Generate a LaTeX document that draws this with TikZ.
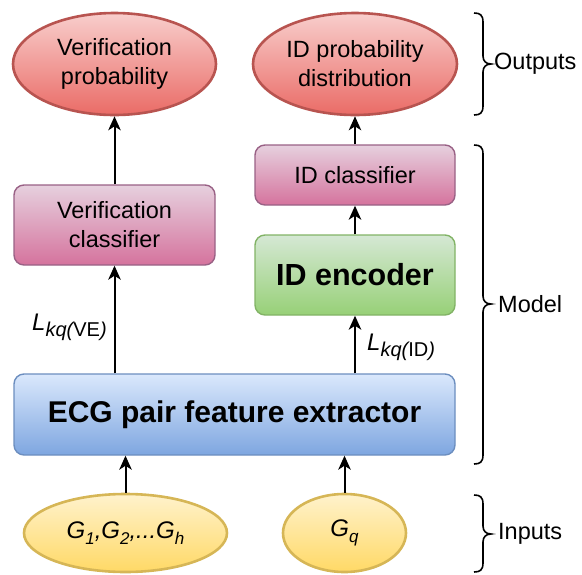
\documentclass[tikz,border=0pt]{standalone}
\usepackage{fontspec}
\setmainfont{Liberation Sans}
\usetikzlibrary{arrows.meta,shapes.geometric}

% lowered, smaller text for subscripts
\newcommand\lowtxt[2][17]{\raisebox{-6pt}{\fontsize{#1}{#1}\selectfont #2}}

\definecolor{redtop}{HTML}{F8CECC}\definecolor{redbot}{HTML}{EA6B66}\definecolor{redline}{HTML}{B85450}
\definecolor{pinktop}{HTML}{E6D0DE}\definecolor{pinkbot}{HTML}{D5739D}\definecolor{pinkline}{HTML}{996185}
\definecolor{greentop}{HTML}{D5E8D4}\definecolor{greenbot}{HTML}{97D077}\definecolor{greenline}{HTML}{82B366}
\definecolor{bluetop}{HTML}{DAE8FC}\definecolor{bluebot}{HTML}{7EA6E0}\definecolor{blueline}{HTML}{6C8EBF}
\definecolor{yeltop}{HTML}{FFF2CC}\definecolor{yelbot}{HTML}{FFD966}\definecolor{yelline}{HTML}{D6B656}

\tikzset{
  base/.style={inner sep=0pt, align=center, font=\fontsize{23.5}{29}\selectfont},
  oval/.style={base, ellipse, line width=2.6pt},
  box/.style={base, rectangle, rounded corners=10pt, line width=1.4pt},
  outnode/.style={oval, top color=redtop, bottom color=redbot, draw=redline},
  innode/.style={oval, top color=yeltop, bottom color=yelbot, draw=yelline},
  clsbox/.style={box, top color=pinktop, bottom color=pinkbot, draw=pinkline},
  encbox/.style={box, top color=greentop, bottom color=greenbot, draw=greenline},
  featbox/.style={box, top color=bluetop, bottom color=bluebot, draw=blueline},
  arr/.style={line width=2pt, -{Stealth[length=14pt, width=12.5pt, inset=4pt]}},
  bracket/.style={line width=1.6pt},
  sidelabel/.style={inner sep=0pt, anchor=west, font=\fontsize{23.5}{23.5}\selectfont},
  losslabel/.style={inner sep=0pt, anchor=base west}
}

\begin{document}
\begin{tikzpicture}[x=1pt, y=-1pt]
\useasboundingbox (0,0) rectangle (582,574);

% outputs
\node[outnode, minimum width=203pt, minimum height=102pt] (vprob) at (114.5,64) {Verification\\probability};
\node[outnode, minimum width=204pt, minimum height=102pt] (idprob) at (355,64) {ID probability\\distribution};

% model
\node[clsbox, minimum width=201pt, minimum height=80pt] (vcls) at (114.5,225) {Verification\\classifier};
\node[clsbox, minimum width=200pt, minimum height=60pt] (idcls) at (355,175) {ID classifier};
\node[encbox, minimum width=200pt, minimum height=80pt, font=\fontsize{30.5}{30.5}\selectfont\bfseries] (idenc) at (355,275) {ID encoder};
\node[featbox, minimum width=441pt, minimum height=81pt, font=\fontsize{30}{30}\selectfont\bfseries] (ecg) at (234.5,414.5) {ECG pair feature extractor};

% inputs
\node[innode, minimum width=203pt, minimum height=78pt, font=\fontsize{24}{24}\selectfont\itshape] (gh) at (125.5,533)
  {G\lowtxt{1},G\lowtxt{2},...G\lowtxt{h}};
\node[innode, minimum width=123pt, minimum height=78pt, font=\fontsize{24}{24}\selectfont\itshape] (gq) at (344.5,533)
  {G\lowtxt{q}};

% connectors
\draw[arr] (gh.north) -- (gh.north |- ecg.south);
\draw[arr] (gq.north) -- (gq.north |- ecg.south);
\draw[arr] (ecg.north -| vcls.south) -- (vcls.south);
\draw[arr] (ecg.north -| idenc.south) -- (idenc.south);
\draw[arr] (idenc.north) -- (idcls.south);
\draw[arr] (idcls.north) -- (idprob.south);
\draw[arr] (vcls.north) -- (vprob.south);

% loss labels
\node[losslabel] (lve) at (32,330)
  {\fontsize{24}{24}\selectfont\itshape L\lowtxt[20]{\itshape kq(\upshape VE\itshape )}};
\node[losslabel] (lid) at (367,350)
  {\fontsize{24}{24}\selectfont\itshape L\lowtxt[20]{\itshape kq(\upshape ID\itshape )}};

% group brackets
\draw[bracket] (474,13) .. controls (480,13) and (483,15) .. (483,22) -- (483,56)
  .. controls (483,61) and (486,64) .. (491,64) .. controls (486,64) and (483,67) .. (483,72)
  -- (483,106) .. controls (483,113) and (480,115) .. (474,115);
\draw[bracket] (474,145) .. controls (480,145) and (483,147) .. (483,154) -- (483,296)
  .. controls (483,301) and (486,304) .. (491,304) .. controls (486,304) and (483,307) .. (483,312)
  -- (483,455) .. controls (483,462) and (480,464) .. (474,464);
\draw[bracket] (474,495) .. controls (480,495) and (483,497) .. (483,504) -- (483,526)
  .. controls (483,531) and (486,534) .. (491,534) .. controls (486,534) and (483,537) .. (483,542)
  -- (483,563) .. controls (483,570) and (480,572) .. (474,572);

\node[sidelabel] (lout) at (494,64) {Outputs};
\node[sidelabel] (lmod) at (498,304) {Model};
\node[sidelabel] (lin) at (498,534) {Inputs};
\end{tikzpicture}
\end{document}
